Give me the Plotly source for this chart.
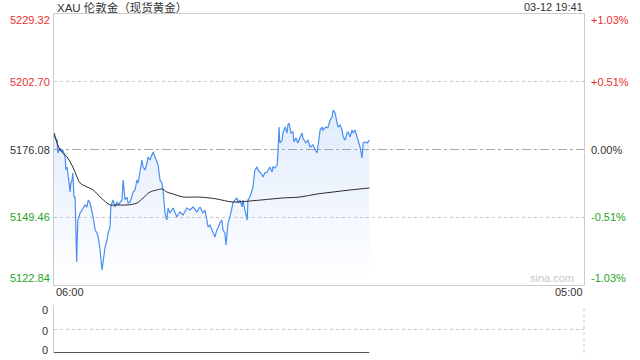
import plotly.graph_objects as go

# ---------------- data ----------------
title_text = "XAU 伦敦金（现货黄金）"
stamp_text = "03-12 19:41"
prev_close = 5176.08
price_ticks = [5229.32, 5202.70, 5176.08, 5149.46, 5122.84]
pct_labels = ["+1.03%", "+0.51%", "0.00%", "-0.51%", "-1.03%"]
tick_colors = ["#e8312f", "#e8312f", "#333333", "#1ea51e", "#1ea51e"]
x_labels = ["06:00", "05:00"]
volume_labels = ["0", "0", "0"]
session_minutes = 1380  # 06:00 -> 05:00 next day

# minutes after 06:00
minutes = [0, 3, 8, 10, 16, 21, 23, 29, 31, 34, 36, 42, 44, 47, 49, 50, 52, 55, 57, 59,
           61, 62, 68, 73, 76, 81, 86, 89, 94, 99, 102, 107, 112, 115, 120, 125, 128, 129,
           133, 138, 141, 146, 148, 151, 154, 159, 164, 167, 172, 177, 180, 185, 190, 193,
           198, 203, 206, 211, 216, 219, 224, 229, 232, 237, 242, 245, 250, 255, 258, 263,
           268, 271, 276, 281, 284, 289, 294, 297, 302, 310, 320, 328, 336, 346, 354, 362,
           372, 380, 388, 393, 398, 401, 406, 411, 419, 424, 427, 432, 437, 440, 445, 448,
           450, 453, 458, 464, 466, 471, 477, 479, 484, 490, 492, 497, 503, 505, 510, 516,
           518, 523, 529, 531, 536, 542, 544, 549, 555, 557, 562, 568, 570, 575, 581, 583,
           586, 588, 594, 596, 602, 607, 609, 612, 617, 622, 625, 630, 635, 641, 646, 648,
           656, 661, 667, 674, 680, 685, 687, 693, 698, 700, 708, 713, 719, 724, 727, 732,
           737, 740, 745, 750, 753, 758, 763, 766, 771, 776, 779, 784, 789, 792, 797, 802,
           805, 810, 815, 818, 821]
prices = [5182.56, 5180.60, 5179.81, 5174.71, 5176.67, 5175.10, 5175.89, 5173.14, 5168.03, 5169.21,
          5166.85, 5159.38, 5162.92, 5164.10, 5166.85, 5161.35, 5157.42, 5157.42, 5148.38, 5131.90,
          5143.27, 5148.38, 5151.13, 5152.31, 5153.10, 5154.28, 5153.49, 5156.24, 5155.06, 5152.31,
          5149.56, 5144.45, 5143.27, 5141.70, 5136.59, 5128.74, 5131.49, 5133.85, 5137.77, 5140.52,
          5143.27, 5145.63, 5153.49, 5155.06, 5156.24, 5153.49, 5155.45, 5154.28, 5155.06, 5156.24,
          5164.10, 5156.24, 5157.42, 5155.06, 5155.45, 5157.42, 5159.38, 5160.17, 5164.10, 5162.92,
          5168.03, 5171.96, 5169.21, 5168.03, 5170.78, 5173.14, 5171.96, 5173.92, 5175.10, 5173.14,
          5171.17, 5169.99, 5164.10, 5162.92, 5160.17, 5151.13, 5148.38, 5153.10, 5151.13, 5153.10,
          5149.56, 5151.53, 5150.35, 5153.10, 5152.31, 5153.49, 5151.53, 5153.49, 5151.13, 5152.31,
          5148.38, 5145.63, 5146.42, 5144.45, 5141.70, 5144.45, 5145.24, 5147.20, 5148.38, 5144.45,
          5143.27, 5138.56, 5143.27, 5147.20, 5149.56, 5153.49, 5155.06, 5156.24, 5157.03, 5155.06,
          5156.24, 5153.49, 5156.24, 5152.31, 5148.38, 5156.24, 5157.42, 5160.17, 5161.35, 5168.03,
          5169.21, 5168.03, 5167.24, 5166.06, 5165.28, 5166.85, 5167.24, 5168.03, 5169.21, 5167.24,
          5169.21, 5168.81, 5169.99, 5174.71, 5184.92, 5178.64, 5179.81, 5182.56, 5184.92, 5182.56,
          5185.71, 5186.49, 5182.56, 5182.96, 5179.03, 5180.60, 5178.64, 5180.99, 5182.56, 5180.60,
          5178.64, 5179.81, 5177.06, 5177.85, 5175.89, 5174.71, 5177.06, 5183.74, 5184.92, 5183.74,
          5184.92, 5184.53, 5187.67, 5188.85, 5191.60, 5190.42, 5186.49, 5184.92, 5185.71, 5183.74,
          5180.99, 5179.81, 5182.56, 5182.96, 5180.99, 5183.74, 5182.56, 5183.74, 5180.99, 5179.81,
          5177.06, 5172.74, 5178.64, 5179.03, 5178.64, 5179.03, 5179.81]

avg_minutes = [0, 16, 34, 49, 60, 68, 86, 102, 120, 138, 146, 164, 190, 216, 232, 250, 268,
               281, 294, 310, 336, 372, 406, 424, 466, 510, 596, 641, 685, 727, 771, 821]
avg_prices = [5182.56, 5175.89, 5173.14, 5169.21, 5165.28, 5162.92, 5161.35, 5160.17, 5157.42,
              5155.06, 5154.28, 5154.28, 5154.28, 5155.06, 5157.03, 5159.38, 5160.17, 5160.56,
              5159.38, 5158.60, 5157.42, 5157.42, 5157.03, 5156.63, 5155.45, 5155.85, 5157.03,
              5157.42, 5158.60, 5159.38, 5160.17, 5160.96]

volume_minutes = [0, 821]
volume = [0, 0]

# ---------------- layout helpers ----------------
W, H = 640, 360


def pxx(img_x):
    """paper x fraction for a picture x (pixels from left)"""
    return img_x / W


def pyy(img_y):
    """paper y fraction for a picture y (pixels from top)"""
    return 1 - img_y / H


FONT = "Liberation Sans, Arial, Noto Sans CJK SC, sans-serif"
x0, x1 = pxx(54), pxx(584)

fig = go.Figure()

fig.add_trace(go.Scatter(
    x=minutes, y=prices, mode="lines",
    line=dict(color="#4a8ef0", width=1.2),
    fill="tozeroy",
    fillgradient=dict(type="vertical",
                      colorscale=[[0, "rgba(74,142,240,0.0)"], [1, "rgba(74,142,240,0.17)"]],
                      start=price_ticks[-1], stop=max(prices)),
    xaxis="x", yaxis="y", hoverinfo="skip", showlegend=False))

fig.add_trace(go.Scatter(
    x=avg_minutes, y=avg_prices, mode="lines", line=dict(color="#2b2b2b", width=1),
    line_shape="spline", xaxis="x", yaxis="y", hoverinfo="skip", showlegend=False))

fig.add_trace(go.Scatter(
    x=volume_minutes, y=volume, mode="lines", line=dict(color="#555555", width=2),
    xaxis="x2", yaxis="y2", hoverinfo="skip", showlegend=False))

fig.update_layout(
    width=W, height=H, margin=dict(l=0, r=0, t=0, b=0),
    paper_bgcolor="white", plot_bgcolor="white",
    font=dict(family=FONT, size=11, color="#333333"),
    xaxis=dict(domain=[x0, x1], range=[0, session_minutes], showgrid=False, zeroline=False,
               showticklabels=False, showline=True, linecolor="#cccccc", linewidth=1,
               mirror=True, ticks=""),
    yaxis=dict(domain=[pyy(285), pyy(14)], range=[price_ticks[-1], price_ticks[0]],
               tickvals=[price_ticks[1], price_ticks[3]], showticklabels=False,
               showgrid=True, gridcolor="#c8c8c8", griddash="dot", gridwidth=1,
               zeroline=False, showline=True, linecolor="#cccccc", linewidth=1, mirror=True,
               ticks=""),
    xaxis2=dict(domain=[x0, x1], range=[0, session_minutes], anchor="y2", showgrid=False,
                zeroline=False, showticklabels=False, showline=False, ticks=""),
    yaxis2=dict(domain=[pyy(353), pyy(305)], range=[0, 1], anchor="x2",
                tickvals=[0, 0.5, 1], showticklabels=False, showgrid=True,
                gridcolor="#c8c8c8", griddash="dot", zeroline=False, showline=True,
                linecolor="#cccccc", ticks=""),
)

# prev close line (dash-dot)
fig.add_shape(type="line", xref="x domain", yref="y", x0=0, x1=1, y0=prev_close, y1=prev_close,
              line=dict(color="#a8a8a8", width=1, dash="dashdot"), layer="below")
# right dotted border of volume panel
fig.add_shape(type="line", xref="x2 domain", yref="y2 domain", x0=1, x1=1, y0=0, y1=1,
              line=dict(color="#c8c8c8", width=1, dash="dot"))

anns = []
n = len(price_ticks)
for i, (v, p, c) in enumerate(zip(price_ticks, pct_labels, tick_colors)):
    ys = 0
    if i == 0:
        ys = -6
    elif i == n - 1:
        ys = 7
    anns.append(dict(x=x0, xref="paper", y=v, yref="y", text=f"{v:.2f}", showarrow=False,
                     xanchor="right", yanchor="middle", xshift=-2, yshift=ys,
                     font=dict(color=c, size=11)))
    anns.append(dict(x=x1, xref="paper", y=v, yref="y", text=p, showarrow=False,
                     xanchor="left", yanchor="middle", xshift=5, yshift=ys,
                     font=dict(color=c, size=11)))

anns.append(dict(x=pxx(55), xref="paper", y=pyy(7), yref="paper", text=title_text,
                 showarrow=False, xanchor="left", yanchor="middle",
                 font=dict(size=11.5, color="#333333")))
anns.append(dict(x=pxx(585), xref="paper", y=pyy(7), yref="paper", text=stamp_text,
                 showarrow=False, xanchor="right", yanchor="middle",
                 font=dict(size=11, color="#333333")))
anns.append(dict(x=pxx(54), xref="paper", y=pyy(292), yref="paper", text=x_labels[0],
                 showarrow=False, xanchor="left", yanchor="middle", font=dict(size=11)))
anns.append(dict(x=pxx(585), xref="paper", y=pyy(292), yref="paper", text=x_labels[1],
                 showarrow=False, xanchor="right", yanchor="middle", font=dict(size=11)))
anns.append(dict(x=pxx(576), xref="paper", y=pyy(278), yref="paper", text="sina.com",
                 showarrow=False, xanchor="right", yanchor="middle",
                 font=dict(size=11, color="#c8c8c8")))
for lab, iy in zip(volume_labels, [310, 331, 350]):
    anns.append(dict(x=pxx(50), xref="paper", y=pyy(iy), yref="paper", text=lab,
                     showarrow=False, xanchor="right", yanchor="middle",
                     font=dict(size=11, color="#333333")))
fig.update_layout(annotations=anns)

fig.write_html("out.html")
